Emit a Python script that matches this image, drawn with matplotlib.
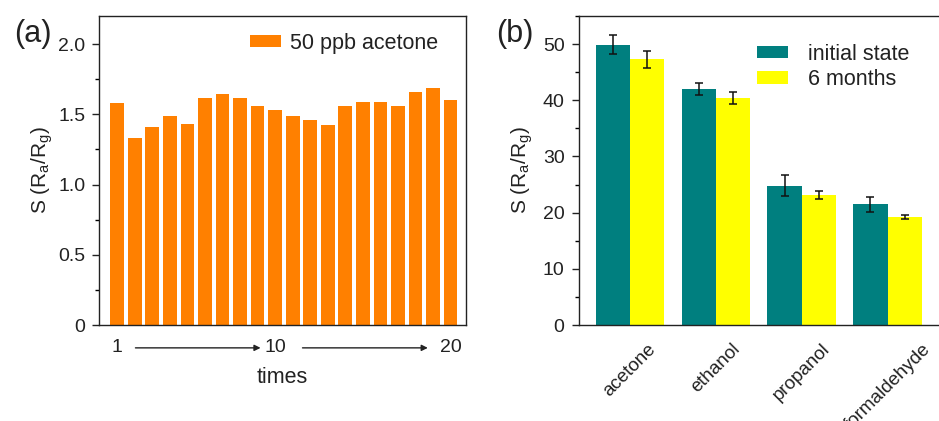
import matplotlib
matplotlib.use('Agg')
import matplotlib.pyplot as plt
import numpy as np
from matplotlib.ticker import MultipleLocator
import matplotlib.transforms as mtransforms

plt.rcParams['font.family'] = ['Liberation Sans', 'DejaVu Sans']
plt.rcParams['mathtext.fontset'] = 'custom'
plt.rcParams['mathtext.rm'] = 'Liberation Sans'
plt.rcParams['mathtext.it'] = 'Liberation Sans:italic'

# ---- data panel (a)
times = list(range(1, 21))
response = [1.58, 1.33, 1.41, 1.485, 1.43, 1.615, 1.648, 1.615, 1.556, 1.53,
            1.485, 1.458, 1.425, 1.556, 1.589, 1.589, 1.556, 1.66, 1.684, 1.60]
time_ticks = [1, 10, 20]
time_ticklabels = ['1', '10', '20']
a_yticks = [0, 0.5, 1.0, 1.5, 2.0]
a_yticklabels = ['0', '0.5', '1.0', '1.5', '2.0']

# ---- data panel (b)
gases = ['acetone', 'ethanol', 'propanol', 'formaldehyde']
initial = [49.9, 42.0, 24.8, 21.5]
initial_err = [1.7, 1.15, 1.85, 1.3]
months6 = [47.3, 40.4, 23.1, 19.2]
months6_err = [1.55, 1.05, 0.75, 0.35]

W, H = 939, 421
fig = plt.figure(figsize=(W / 100, H / 100), dpi=100)
TXT = '#222222'

def fx(px):
    return px / W

def fy(py):
    return 1 - py / H

ax1 = fig.add_axes([fx(99.3), fy(325), fx(465.7 - 99.3), (325 - 16) / H])
ax2 = fig.add_axes([fx(578.5), fy(325), fx(939 - 578.5) + 0.002, (325 - 16) / H])

ylab = r'S (R$_\mathregular{a}$/R$_\mathregular{g}$)'

# ---------------- panel (a)
ax1.bar(times, response, width=0.78, color='#FF8000', edgecolor='none',
        label='50 ppb acetone')
ax1.set_xlim(-0.02, 20.86)
ax1.set_ylim(0, 2.2)
ax1.set_yticks(a_yticks)
ax1.set_yticklabels(a_yticklabels)
ax1.yaxis.set_minor_locator(MultipleLocator(0.25))
ax1.set_xticks(time_ticks)
ax1.set_xticklabels(time_ticklabels)
ax1.tick_params(axis='x', length=0, pad=10, labelsize=14, colors=TXT)
ax1.tick_params(axis='y', which='major', length=5, width=1, pad=5,
                labelsize=14, colors=TXT, direction='out')
ax1.tick_params(axis='y', which='minor', length=3, width=1, direction='out')
ax1.set_ylabel(ylab, fontsize=15, color=TXT)
ax1.yaxis.set_label_coords(-0.12, 0.5)
ax1.set_xlabel('times', fontsize=15.5, color=TXT)
ax1.xaxis.set_label_coords(0.5, -0.135)
for s in ax1.spines.values():
    s.set_linewidth(1.0)
    s.set_color(TXT)

trans = mtransforms.blended_transform_factory(ax1.transData, ax1.transAxes)
for x0, x1 in [(2.04, 9.17), (11.56, 18.7)]:
    ax1.annotate('', xy=(x1, -0.074), xytext=(x0, -0.074),
                 xycoords=trans, textcoords=trans,
                 arrowprops=dict(arrowstyle='-|>', color=TXT, lw=1.0,
                                 mutation_scale=9, shrinkA=0, shrinkB=0),
                 annotation_clip=False)

leg1 = ax1.legend(loc='upper left', bbox_to_anchor=(0.41, 0.945), frameon=False,
                  fontsize=15.5, handlelength=1.45, handleheight=0.5,
                  handletextpad=0.45, borderpad=0, borderaxespad=0)
for t in leg1.get_texts():
    t.set_color(TXT)

# ---------------- panel (b)
x = np.arange(len(gases))
bw = 0.4
ax2.bar(x - bw / 2, initial, width=bw, color='#007F7F', edgecolor='none',
        label='initial state')
ax2.bar(x + bw / 2, months6, width=bw, color='#FFFF00', edgecolor='none',
        label='6 months')
ax2.errorbar(x - bw / 2, initial, yerr=initial_err, fmt='none', ecolor='#111111',
             elinewidth=1.1, capsize=3, capthick=1.1)
ax2.errorbar(x + bw / 2, months6, yerr=months6_err, fmt='none', ecolor='#111111',
             elinewidth=1.1, capsize=3, capthick=1.1)
ax2.set_xlim(-0.6, 3.62)
ax2.set_ylim(0, 55)
ax2.yaxis.set_major_locator(MultipleLocator(10))
ax2.yaxis.set_minor_locator(MultipleLocator(5))
ax2.set_xticks(x)
ax2.set_xticklabels(gases, rotation=45, ha='center', va='top')
ax2.tick_params(axis='x', length=0, pad=11, labelsize=13.5, colors=TXT)
ax2.tick_params(axis='y', which='major', length=5, width=1, pad=5,
                labelsize=14, colors=TXT, direction='out')
ax2.tick_params(axis='y', which='minor', length=3, width=1, direction='out')
ax2.set_ylabel(ylab, fontsize=15, color=TXT)
ax2.yaxis.set_label_coords(-0.12, 0.5)
ax2.spines['right'].set_visible(False)
for s in ax2.spines.values():
    s.set_linewidth(1.0)
    s.set_color(TXT)

leg2 = ax2.legend(loc='upper left', bbox_to_anchor=(0.492, 0.91), frameon=False,
                  fontsize=15.5, handlelength=1.45, handleheight=0.5,
                  handletextpad=0.95, labelspacing=0.2, borderpad=0,
                  borderaxespad=0)
for t in leg2.get_texts():
    t.set_color(TXT)

fig.text(fx(32.5), fy(34), '(a)', fontsize=22, ha='center', va='center', color=TXT)
fig.text(fx(515), fy(34), '(b)', fontsize=22, ha='center', va='center', color=TXT)

fig.savefig('out.png', dpi=100)
